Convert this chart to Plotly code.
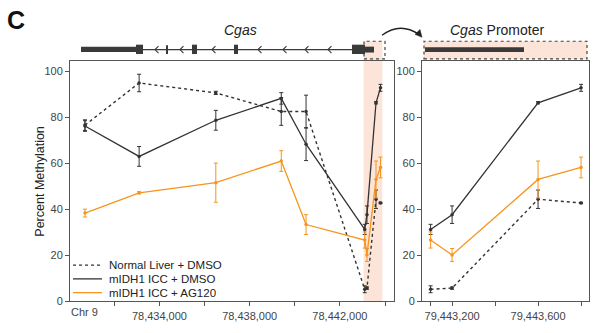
import plotly.graph_objects as go

# ---------------- data ----------------
gene_pos = [78430700, 78433100, 78436500, 78439400, 78440500,
            78443100, 78443200, 78443600, 78443800]
promoter_pos = [79443100, 79443200, 79443600, 79443800]

normal_dmso = [76.6, 94.9, 90.6, 82.5, 82.5, 5.3, 5.8, 44.4, 42.8]
normal_dmso_err = [2.3, 3.8, 0.7, 6.0, 7.1, 1.5, 0.5, 4.0, 0.3]
icc_dmso = [76.2, 63.0, 78.7, 88.2, 68.3, 31.3, 37.7, 86.3, 92.8]
icc_dmso_err = [2.3, 4.3, 4.3, 2.5, 7.1, 2.2, 3.8, 0.5, 1.5]
icc_ag120 = [38.4, 47.2, 51.6, 61.0, 33.4, 26.7, 20.2, 53.0, 58.2]
icc_ag120_err = [1.7, 0.5, 8.5, 4.5, 4.3, 3.5, 2.8, 8.0, 4.5]

series_names = ["Normal Liver + DMSO", "mIDH1 ICC + DMSO", "mIDH1 ICC + AG120"]

left_ticks = [78432000, 78434000, 78436000, 78438000, 78440000, 78442000, 78444000]
left_ticktext = ["", "78,434,000", "", "78,438,000", "", "78,442,000", ""]
right_ticks = [79443100, 79443200, 79443400, 79443600, 79443800]
right_ticktext = ["", "79,443,200", "", "79,443,600", ""]
y_ticks = [0, 20, 40, 60, 80, 100]

# ---------------- style ----------------
W, H = 600, 333
DARK = "#333333"
ORANGE = "#F7941D"
PINK = "#FCE4D8"
AX = "#555555"
FONT = "Liberation Sans, Arial, sans-serif"


def px(x):
    return x / W


def py(y):
    return 1 - y / H


styles = [
    dict(color=DARK, dash="dot", width=1.4),
    dict(color=DARK, dash="solid", width=1.3),
    dict(color=ORANGE, dash="solid", width=1.3),
]
values = [normal_dmso, icc_dmso, icc_ag120]
errors = [normal_dmso_err, icc_dmso_err, icc_ag120_err]

fig = go.Figure()
n_prom = len(promoter_pos)
for name, st, vals, errs in zip(series_names, styles, values, errors):
    ebar = dict(type="data", thickness=1, width=2, color=st["color"])
    fig.add_trace(go.Scatter(
        x=gene_pos, y=vals, mode="lines+markers", name=name,
        line=dict(color=st["color"], dash=st["dash"], width=st["width"]),
        marker=dict(size=3.5, color=st["color"]),
        error_y=dict(array=errs, **ebar),
        xaxis="x", yaxis="y", showlegend=False, cliponaxis=False))
    fig.add_trace(go.Scatter(
        x=promoter_pos, y=vals[-n_prom:], mode="lines+markers", name=name,
        line=dict(color=st["color"], dash=st["dash"], width=st["width"]),
        marker=dict(size=3.5, color=st["color"]),
        error_y=dict(array=errs[-n_prom:], **ebar),
        xaxis="x2", yaxis="y2", showlegend=False, cliponaxis=False))

ydom = [py(307), py(62)]
axis_common = dict(showline=True, linecolor=AX, linewidth=1, mirror=True,
                   ticks="outside", ticklen=4, tickcolor=AX, showgrid=False,
                   zeroline=False, tickfont=dict(family=FONT, size=11, color="#444"))

shapes = []
annotations = []

# highlight column over the promoter region of the gene plot
shapes.append(dict(type="rect", xref="x", yref="paper", x0=78443050, x1=78443880,
                   y0=py(307), y1=py(42), fillcolor=PINK, line=dict(width=0),
                   layer="below"))
# dotted box around promoter on gene track
shapes.append(dict(type="rect", xref="paper", yref="paper", x0=px(364), x1=px(385),
                   y0=py(60), y1=py(42), line=dict(color="#444", width=1.2, dash="dot"),
                   fillcolor="rgba(0,0,0,0)"))
# promoter track box on the right
shapes.append(dict(type="rect", xref="paper", yref="paper", x0=px(424), x1=px(587),
                   y0=py(60), y1=py(42), line=dict(color="#444", width=1.2, dash="dot"),
                   fillcolor=PINK, layer="below"))
shapes.append(dict(type="rect", xref="paper", yref="paper", x0=px(425), x1=px(524),
                   y0=py(53), y1=py(48), line=dict(width=0), fillcolor="#3a3a3a"))

# gene track
GENE = "#3a3a3a"


def box(x0, x1, y0, y1):
    shapes.append(dict(type="rect", xref="paper", yref="paper", x0=px(x0), x1=px(x1),
                       y0=py(y1), y1=py(y0), line=dict(width=0), fillcolor=GENE))


shapes.append(dict(type="line", xref="paper", yref="paper", x0=px(143), x1=px(353),
                   y0=py(50.5), y1=py(50.5), line=dict(color=GENE, width=1.2)))
box(81, 137, 47.5, 53)
box(136, 143, 45.5, 55)
box(166, 168, 46, 55)
box(192, 197, 45.5, 55)
box(234, 238, 45.5, 55)
box(352, 365, 45.5, 55)
box(365, 374, 47.5, 53.5)
for cx in [155, 180, 212, 258, 283, 305, 328]:
    shapes.append(dict(type="path", xref="paper", yref="paper",
                       path=f"M {px(cx+3.5)},{py(47)} L {px(cx)},{py(50.5)} L {px(cx+3.5)},{py(54)}",
                       line=dict(color=GENE, width=1.1)))

# curved arrow
x1a, y1a = 382, 36
x2a, y2a = 421, 37
shapes.append(dict(type="path", xref="paper", yref="paper",
                   path=f"M {px(x1a)},{py(y1a)} Q {px(400)},{py(22)} {px(x2a-2)},{py(y2a-2)}",
                   line=dict(color="#222", width=1.3)))
shapes.append(dict(type="path", xref="paper", yref="paper",
                   path=f"M {px(x2a+1)},{py(y2a+1)} L {px(x2a-6)},{py(y2a-2)} L {px(x2a-1)},{py(y2a-7)} Z",
                   fillcolor="#222", line=dict(color="#222", width=0.5)))

# texts
annotations.append(dict(text="<b>C</b>", x=px(5), y=py(20), xref="paper", yref="paper",
                        xanchor="left", yanchor="middle", showarrow=False,
                        font=dict(family="Liberation Sans Narrow, Arial Narrow, Liberation Sans", size=25, color="#111")))
annotations.append(dict(text="<i>Cgas</i>", x=px(240), y=py(31), xref="paper", yref="paper",
                        xanchor="center", yanchor="middle", showarrow=False,
                        font=dict(family=FONT, size=14, color="#222")))
annotations.append(dict(text="<i>Cgas</i> Promoter", x=px(497), y=py(31), xref="paper", yref="paper",
                        xanchor="center", yanchor="middle", showarrow=False,
                        font=dict(family=FONT, size=14, color="#222")))
annotations.append(dict(text="Percent Methylation", x=px(40), y=py(185), xref="paper", yref="paper",
                        xanchor="center", yanchor="middle", showarrow=False, textangle=-90,
                        font=dict(family=FONT, size=12.5, color="#222")))
annotations.append(dict(text="Chr 9", x=gene_pos[0], y=py(318), xref="x", yref="paper",
                        xanchor="center", yanchor="middle", showarrow=False,
                        font=dict(family=FONT, size=11, color="#444")))

# manual legend
leg_y = [270, 284, 298]
for name, st, ly in zip(series_names, styles, leg_y):
    shapes.append(dict(type="line", xref="paper", yref="paper", x0=px(73), x1=px(102),
                       y0=py(ly), y1=py(ly),
                       line=dict(color=st["color"], dash=st["dash"], width=st["width"])))
    annotations.append(dict(text=name, x=px(107), y=py(ly), xref="paper", yref="paper",
                            xanchor="left", yanchor="middle", showarrow=False,
                            font=dict(family=FONT, size=11.5, color="#222")))

fig.update_layout(
    width=W, height=H, margin=dict(l=0, r=0, t=0, b=0),
    paper_bgcolor="white", plot_bgcolor="rgba(0,0,0,0)",
    font=dict(family=FONT),
    xaxis=dict(domain=[px(70), px(394)], range=[78430036, 78444398],
               tickvals=left_ticks, ticktext=left_ticktext, anchor="y", **axis_common),
    yaxis=dict(domain=ydom, range=[0, 104.5], tickvals=y_ticks, anchor="x", **axis_common),
    xaxis2=dict(domain=[px(422), px(589)], range=[79443060, 79443837],
                tickvals=right_ticks, ticktext=right_ticktext, anchor="y2", **axis_common),
    yaxis2=dict(domain=ydom, range=[0, 104.5], tickvals=y_ticks, anchor="x2", **axis_common),
    shapes=shapes, annotations=annotations,
)

fig.write_html("out.html")
